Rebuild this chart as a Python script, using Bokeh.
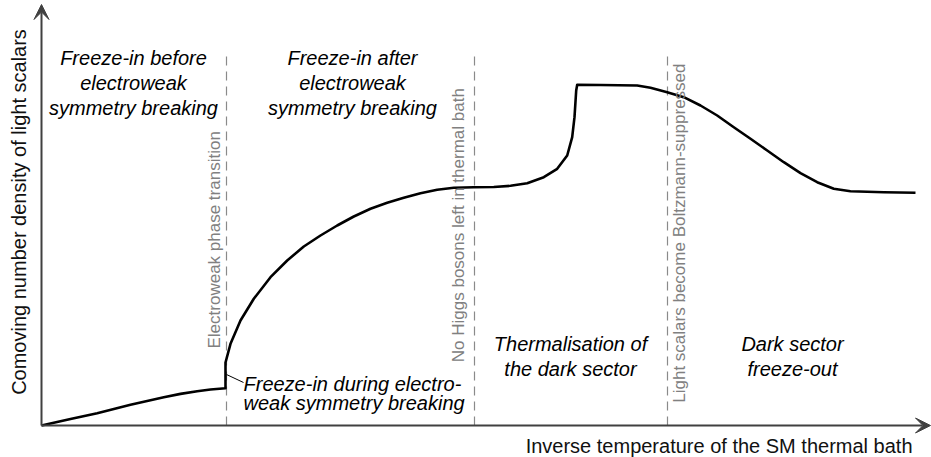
import math
from bokeh.plotting import figure
from bokeh.models import Range1d, Arrow, VeeHead, Label
from bokeh.embed import file_html
from bokeh.resources import INLINE

# ---- data (arbitrary units) ----
inv_temp = [0, 29, 55.7, 89, 122.3, 139, 155.7, 169, 184, 184, 189, 199, 212.3, 229,
            245.7, 262.3, 279, 295.7, 312.3, 329, 345.7, 362.3, 379, 395.7, 412.3,
            432.3, 452.3, 469, 485.7, 502.3, 515.7, 525.7, 530.7, 533, 534.7, 535.7,
            559, 595.7, 609, 625.7, 642.3, 659, 675.7, 692.3, 709, 725.7, 742.3, 759,
            775.7, 792.3, 809, 842.3, 874]
density = [0, 6.6, 12.3, 20.8, 28.3, 31.6, 34.3, 36, 37.3, 63, 81.7, 105, 126.7,
           148.3, 165, 179, 190, 200, 209, 216.7, 222.7, 227.7, 232.3, 235.7, 237.7,
           238.3, 238.5, 239.7, 242.3, 248.3, 256.7, 270, 288.3, 308.3, 335, 340.7,
           340.5, 340, 337.7, 333.3, 328.3, 320, 310, 298.3, 286.7, 275, 263.3,
           252.3, 243.3, 236.7, 234.3, 233.3, 232.7]

# vertical transitions (dashed lines)
transition_x = [185, 433, 626]
transition_top = [375, 375, 375]
transition_labels = ["Electroweak phase transition",
                     "No Higgs bosons left in thermal bath",
                     "Light scalars become Boltzmann-suppressed"]

# leader line for the "during" label
leader_x = [185, 202]
leader_y = [51, 43]

x_label = "Inverse temperature of the SM thermal bath"
y_label = "Comoving number density of light scalars"

FONT = "Liberation Sans"

p = figure(width=931, height=457, output_backend="svg", toolbar_location=None,
           x_range=Range1d(-41, 890), y_range=Range1d(-32, 425),
           x_axis_location=None, y_axis_location=None, min_border=0)
p.grid.visible = False
p.outline_line_color = None
p.background_fill_color = "white"
p.border_fill_color = "white"

# dashed transition lines
p.segment(x0=transition_x, y0=[0] * 3, x1=transition_x, y1=transition_top,
          line_color="#8a8a8a", line_width=1.2, line_dash="9 6")

# curve
p.line(inv_temp, density, line_color="black", line_width=2.6, line_join="round")

# leader
p.line(leader_x, leader_y, line_color="black", line_width=1)

# axes as arrows
axis_col = "#404040"
p.add_layout(Arrow(x_start=0, y_start=0, x_end=0, y_end=421,
                   line_color=axis_col, line_width=2,
                   end=VeeHead(size=15, fill_color=axis_col, line_color=axis_col)))
p.add_layout(Arrow(x_start=0, y_start=0, x_end=889, y_end=0,
                   line_color=axis_col, line_width=2,
                   end=VeeHead(size=15, fill_color=axis_col, line_color=axis_col)))

# axis labels
p.add_layout(Label(x=-23, y=213.5, text=y_label, angle=math.pi / 2,
                   text_font=FONT, text_font_size="20px", text_color="#111111",
                   text_align="center", text_baseline="middle"))
p.add_layout(Label(x=871, y=-20, text=x_label,
                   text_font=FONT, text_font_size="20px", text_color="#111111",
                   text_align="right", text_baseline="alphabetic"))

# rotated transition labels
gray = "#808080"
p.add_layout(Label(x=172.5, y=77, text=transition_labels[0], angle=math.pi / 2,
                   text_font=FONT, text_font_size="17px", text_color=gray,
                   text_align="left", text_baseline="middle"))
p.add_layout(Label(x=417, y=63.3, text=transition_labels[1], angle=math.pi / 2,
                   text_font=FONT, text_font_size="17px", text_color=gray,
                   text_align="left", text_baseline="middle"))
p.add_layout(Label(x=638, y=362, text=transition_labels[2], angle=math.pi / 2,
                   text_font=FONT, text_font_size="17px", text_color=gray,
                   text_align="right", text_baseline="middle"))


def italic(x, y, text, align="center"):
    p.add_layout(Label(x=x, y=y, text=text, text_font=FONT, text_font_size="20px",
                       text_font_style="italic", text_color="black",
                       text_align=align, text_baseline="alphabetic"))


for i, t in enumerate(["Freeze-in before", "electroweak", "symmetry breaking"]):
    italic(92, 368 - 25 * i, t)
for i, t in enumerate(["Freeze-in after", "electroweak", "symmetry breaking"]):
    italic(311, 368 - 25 * i, t)
for i, t in enumerate(["Freeze-in during electro-", "weak symmetry breaking"]):
    italic(202, 42 - 19 * i, t, align="left")
for i, t in enumerate(["Thermalisation of", "the dark sector"]):
    italic(529, 82 - 25 * i, t)
for i, t in enumerate(["Dark sector", "freeze-out"]):
    italic(751, 82 - 25 * i, t)

open("out.html", "w").write(file_html(p, INLINE))
